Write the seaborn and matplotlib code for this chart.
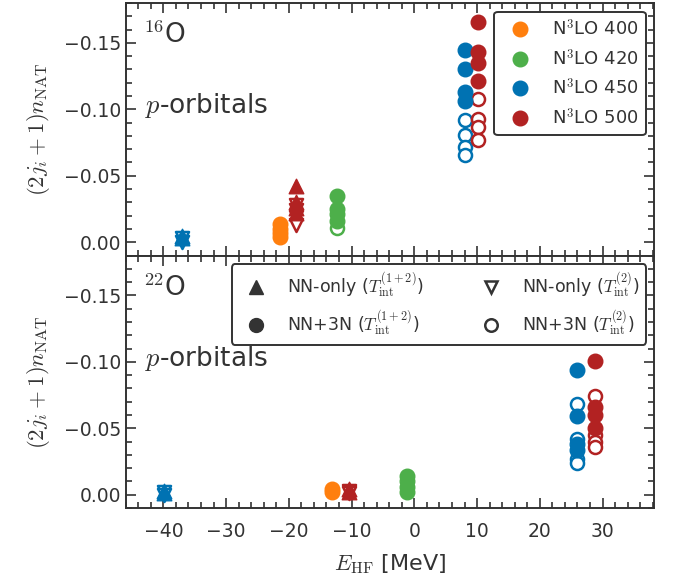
import matplotlib
matplotlib.use("Agg")
import matplotlib.pyplot as plt
import pandas as pd
import seaborn as sns
from matplotlib.lines import Line2D
from matplotlib.ticker import MultipleLocator

# Interactions and their colours
interactions = ["N$^3$LO 400", "N$^3$LO 420", "N$^3$LO 450", "N$^3$LO 500"]
colors = ["#ff7f0e", "#4daf4a", "#0072b2", "#b22222"]

# 16O, p-orbitals: (interaction, E_HF, values)
o16_nn_12 = [("N$^3$LO 450", -37.0, [-0.005, -0.003]),
             ("N$^3$LO 500", -18.8, [-0.042, -0.030, -0.026, -0.022])]
o16_nn_2 = [("N$^3$LO 450", -37.0, [-0.003, 0.000]),
            ("N$^3$LO 500", -18.8, [-0.028, -0.024, -0.019, -0.013])]
o16_3n_12 = [("N$^3$LO 400", -21.4, [-0.014, -0.010, -0.007, -0.004]),
             ("N$^3$LO 420", -12.3, [-0.035, -0.025, -0.021, -0.016]),
             ("N$^3$LO 450", 8.0, [-0.145, -0.130, -0.113, -0.106]),
             ("N$^3$LO 500", 10.2, [-0.166, -0.143, -0.135, -0.121])]
o16_3n_2 = [("N$^3$LO 420", -12.3, [-0.011]),
            ("N$^3$LO 450", 8.0, [-0.092, -0.081, -0.072, -0.066]),
            ("N$^3$LO 500", 10.2, [-0.108, -0.093, -0.087, -0.077])]

# 22O, p-orbitals
o22_nn_12 = [("N$^3$LO 450", -39.9, [-0.003, -0.001]),
             ("N$^3$LO 500", -10.4, [-0.004, -0.002])]
o22_nn_2 = [("N$^3$LO 450", -39.9, [-0.002, 0.000]),
            ("N$^3$LO 500", -10.4, [-0.003, -0.001])]
o22_3n_12 = [("N$^3$LO 400", -13.1, [-0.004, -0.002]),
             ("N$^3$LO 420", -1.2, [-0.014, -0.010, -0.006, -0.002]),
             ("N$^3$LO 450", 25.9, [-0.094, -0.059, -0.038, -0.034]),
             ("N$^3$LO 500", 28.8, [-0.1005, -0.066, -0.060, -0.050])]
o22_3n_2 = [("N$^3$LO 450", 25.9, [-0.068, -0.042, -0.027, -0.024]),
            ("N$^3$LO 500", 28.8, [-0.074, -0.045, -0.040, -0.036])]

# marker, filled; drawn in this order (open ones underneath)
kinds = {
    "nn_2": ("v", False),
    "3n_2": ("o", False),
    "nn_12": ("^", True),
    "3n_12": ("o", True),
}


def to_frame(groups, kind):
    rows = []
    for name, e_hf, vals in groups:
        for v in vals:
            rows.append({"interaction": name, "E_HF": e_hf, "n": v, "kind": kind})
    return pd.DataFrame(rows)


panels = [
    ("$^{16}$O", {"nn_12": o16_nn_12, "nn_2": o16_nn_2, "3n_12": o16_3n_12, "3n_2": o16_3n_2}),
    ("$^{22}$O", {"nn_12": o22_nn_12, "nn_2": o22_nn_2, "3n_12": o22_3n_12, "3n_2": o22_3n_2}),
]

sns.set_theme(style="ticks")
plt.rcParams.update({
    "font.family": ["DejaVu Sans"],
    "mathtext.fontset": "cm",
    "text.color": "#333333",
    "axes.labelcolor": "#333333",
    "axes.edgecolor": "#333333",
    "xtick.color": "#333333",
    "ytick.color": "#333333",
    "axes.linewidth": 1.4,
})

fig, axes = plt.subplots(2, 1, sharex=True, figsize=(6.78, 5.80), dpi=100)
fig.subplots_adjust(left=0.1854, right=0.9646, top=0.9948, bottom=0.1241, hspace=0)

color_of = dict(zip(interactions, colors))

for ax, (nucleus, groups) in zip(axes, panels):
    for kind, (marker, filled) in kinds.items():
        df = to_frame(groups[kind], kind)
        for name, sub in df.groupby("interaction", sort=False):
            c = color_of[name]
            if filled:
                sns.scatterplot(data=sub, x="E_HF", y="n", ax=ax, marker=marker,
                                color=c, edgecolor=c, linewidth=1.0, s=110,
                                legend=False, zorder=3)
            else:
                sns.scatterplot(data=sub, x="E_HF", y="n", ax=ax, marker=marker,
                                color=c, facecolor="white", edgecolor=c,
                                linewidth=1.8, s=88, legend=False, zorder=3)

    ax.set_ylim(0.01, -0.18)
    ax.set_xlim(-46.0, 38.2)
    ax.set_yticks([0.0, -0.05, -0.10, -0.15])
    ax.xaxis.set_major_locator(MultipleLocator(10))
    ax.xaxis.set_minor_locator(MultipleLocator(2))
    ax.yaxis.set_minor_locator(MultipleLocator(0.01))
    ax.tick_params(which="both", direction="in", top=True, right=True,
                   labelsize=13.5, width=1.2)
    ax.tick_params(which="major", length=7)
    ax.tick_params(which="minor", length=4)
    ax.tick_params(axis="x", which="major", pad=10)
    ax.set_ylabel(r"$(2j_i+1)n_{\rm NAT}$", fontsize=16.5, labelpad=8)
    ax.set_xlabel("")
    ax.text(0.033, 0.84, nucleus, transform=ax.transAxes, fontsize=19,
            va="baseline", ha="left")
    ax.text(0.036, 0.563, "$p$-orbitals", transform=ax.transAxes, fontsize=19,
            va="baseline", ha="left")

axes[1].set_xlabel(r"$E_{\rm HF}$ [MeV]", fontsize=16, labelpad=8)

# Interaction legend
int_handles = [Line2D([], [], ls="none", marker="o", color=c, mec=c, markersize=10.5)
               for c in colors]
leg1 = axes[0].legend(int_handles, interactions, loc="upper right",
                      bbox_to_anchor=(0.985, 0.965), borderaxespad=0,
                      fontsize=13, frameon=True, framealpha=1,
                      edgecolor="#333333", fancybox=True)
leg1.get_frame().set_linewidth(1.4)

# Hamiltonian / transformation legend
dark = "#333333"
kind_handles = [
    Line2D([], [], ls="none", marker="^", color=dark, mec=dark, markersize=10),
    Line2D([], [], ls="none", marker="o", color=dark, mec=dark, markersize=10),
    Line2D([], [], ls="none", marker="v", color=dark, mfc="white", mec=dark,
           mew=1.8, markersize=9),
    Line2D([], [], ls="none", marker="o", color=dark, mfc="white", mec=dark,
           mew=1.8, markersize=9),
]
kind_labels = [
    r"NN-only ($T_{\rm int}^{(1+2)}$)",
    r"NN+3N ($T_{\rm int}^{(1+2)}$)",
    r"NN-only ($T_{\rm int}^{(2)}$)",
    r"NN+3N ($T_{\rm int}^{(2)}$)",
]
leg2 = axes[1].legend(kind_handles, kind_labels, loc="upper right", ncol=2,
                      bbox_to_anchor=(0.985, 0.965), borderaxespad=0,
                      fontsize=12.5, frameon=True, framealpha=1,
                      edgecolor="#333333", fancybox=True, columnspacing=2.8)
leg2.get_frame().set_linewidth(1.4)

fig.savefig("out.png", dpi=100)
